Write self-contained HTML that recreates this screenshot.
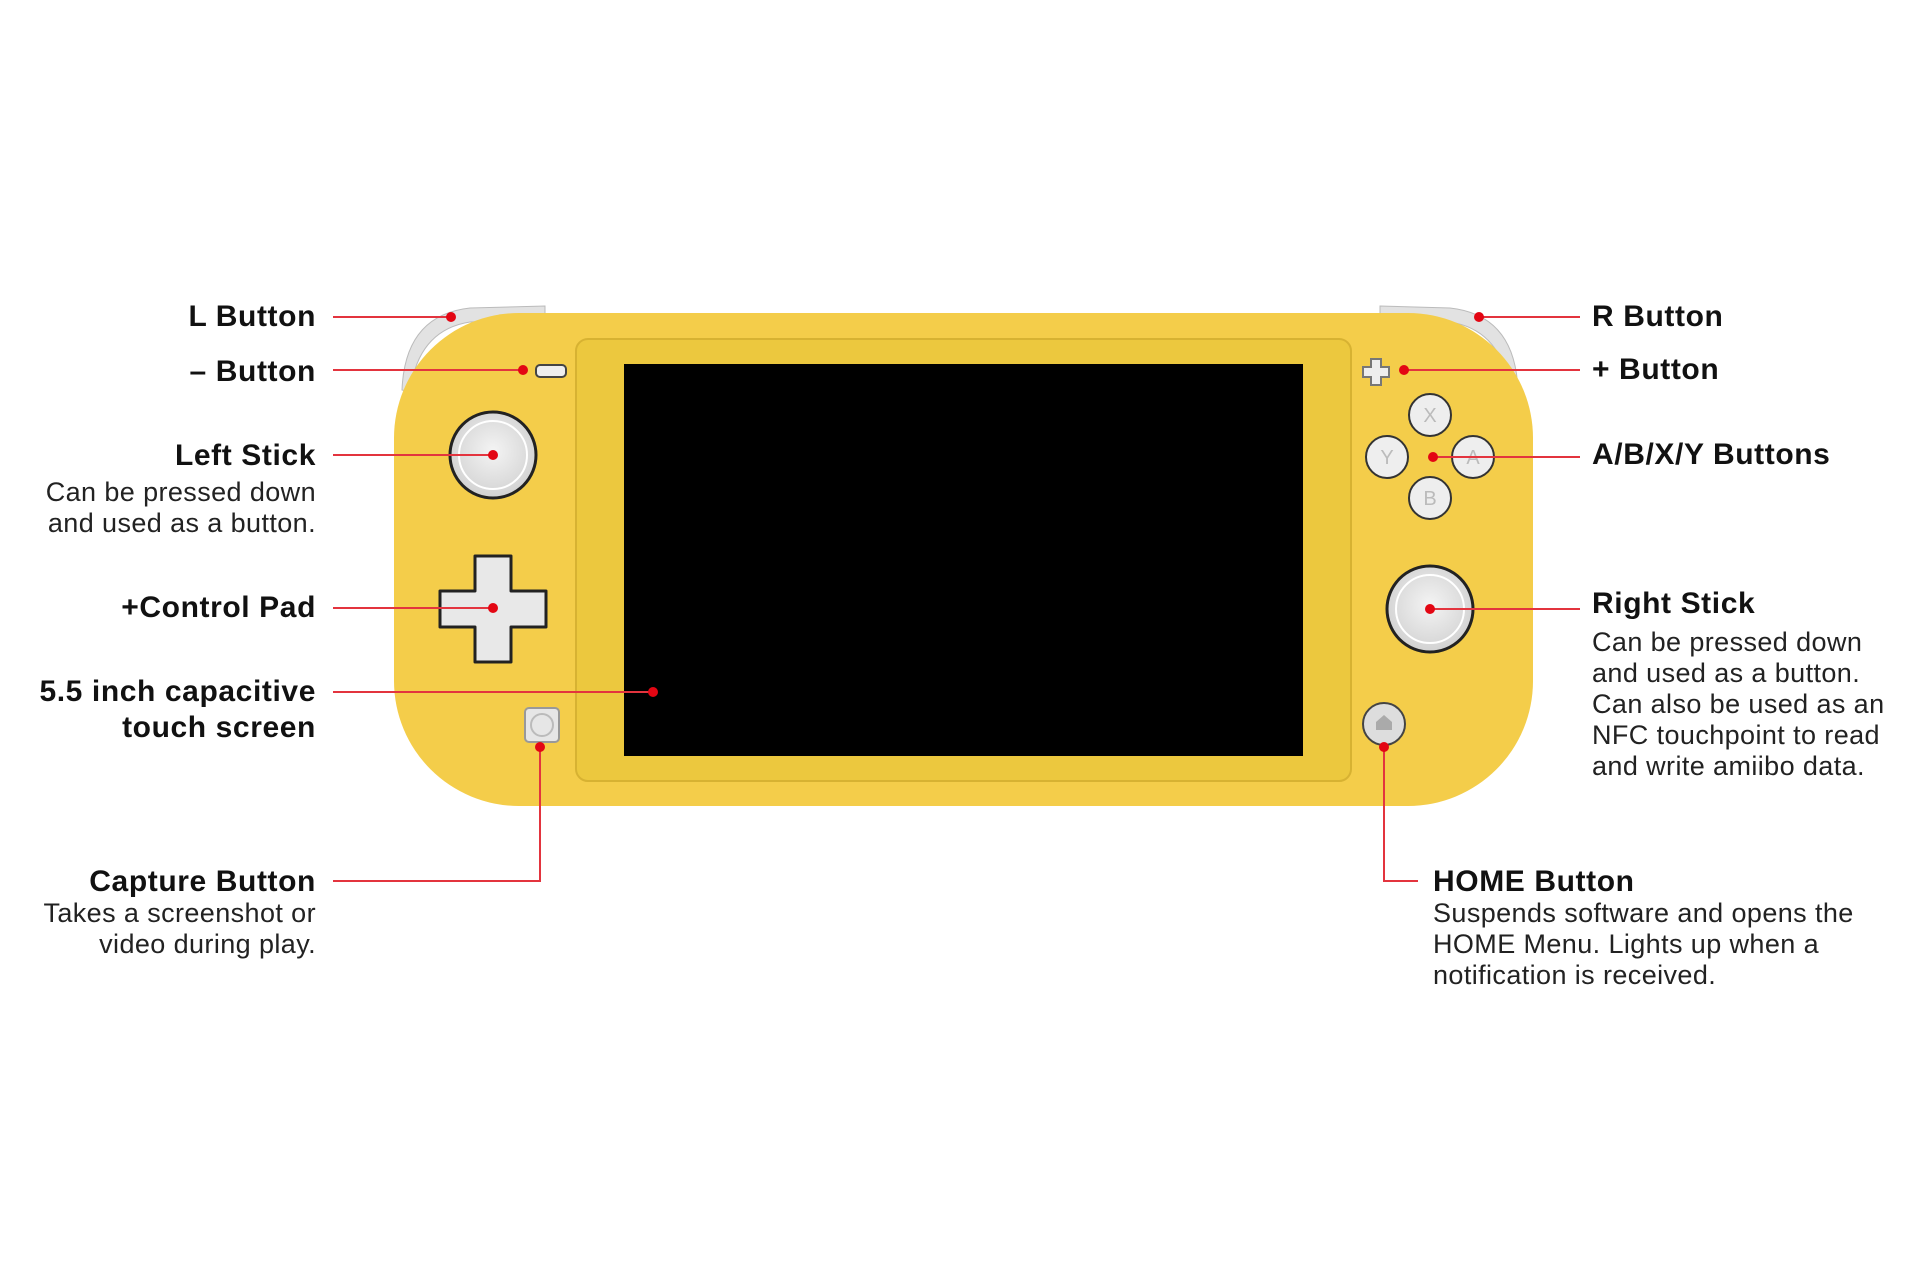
<!DOCTYPE html>
<html><head><meta charset="utf-8"><style>
html,body{margin:0;padding:0;background:#fff;width:1920px;height:1280px;overflow:hidden}
svg{display:block}
.b{font-family:"Liberation Sans",sans-serif;font-weight:bold;font-size:30px;letter-spacing:0.6px;fill:#111}
.d{font-family:"Liberation Sans",sans-serif;font-size:27px;letter-spacing:0.4px;fill:#222}
.l{stroke:#e3343e;stroke-width:2;fill:none}
.dot{fill:#e30613}
</style></head><body>
<svg width="1920" height="1280" viewBox="0 0 1920 1280" xmlns="http://www.w3.org/2000/svg">
<defs>
<radialGradient id="st" cx="50%" cy="45%" r="55%"><stop offset="0" stop-color="#f4f4f4"/><stop offset="1" stop-color="#d2d2d2"/></radialGradient>
</defs>
<path d="M402,390 Q405,315 470,308 L545,306 L545,318 L470,322 Q418,330 410,392 Z" fill="#e2e2e2" stroke="#bbb" stroke-width="1"/>
<path d="M1518,390 Q1515,315 1450,308 L1380,306 L1380,318 L1450,322 Q1502,330 1510,392 Z" fill="#e2e2e2" stroke="#bbb" stroke-width="1"/>
<rect x="394" y="313" width="1139" height="493" rx="125" fill="#f4cd4a"/>
<rect x="576" y="339" width="775" height="442" rx="12" fill="#ecc83e" stroke="#d7b232" stroke-width="2"/>
<rect x="624" y="364" width="679" height="392" fill="#000"/>
<rect x="536" y="365" width="30" height="12" rx="4" fill="#eee" stroke="#444" stroke-width="2"/>
<circle cx="493" cy="455" r="43" fill="url(#st)" stroke="#222" stroke-width="3"/>
<circle cx="493" cy="455" r="34" fill="none" stroke="#fff" stroke-width="2"/>
<path d="M475,556 h36 v35 h35 v36 h-35 v35 h-36 v-35 h-35 v-36 h35 Z" fill="#e8e8e8" stroke="#222" stroke-width="3" stroke-linejoin="round"/>
<rect x="525" y="708" width="34" height="34" rx="4" fill="#e6e6e6" stroke="#999" stroke-width="2"/>
<circle cx="542" cy="725" r="11" fill="none" stroke="#bbb" stroke-width="2"/>
<path d="M1371,359 h10 v8 h8 v10 h-8 v8 h-10 v-8 h-8 v-10 h8 Z" fill="#eee" stroke="#777" stroke-width="2"/>
<g fill="#eee" stroke="#333" stroke-width="2">
<circle cx="1430" cy="415" r="21"/><circle cx="1387" cy="457" r="21"/><circle cx="1473" cy="457" r="21"/><circle cx="1430" cy="498" r="21"/>
</g>
<g font-family="Liberation Sans,sans-serif" font-size="20" fill="#bbb" text-anchor="middle">
<text x="1430" y="422">X</text><text x="1387" y="464">Y</text><text x="1473" y="464">A</text><text x="1430" y="505">B</text>
</g>
<circle cx="1430" cy="609" r="43" fill="url(#st)" stroke="#222" stroke-width="3"/>
<circle cx="1430" cy="609" r="34" fill="none" stroke="#fff" stroke-width="2"/>
<circle cx="1384" cy="724" r="21" fill="#ddd" stroke="#444" stroke-width="2"/>
<path d="M1376,730 v-8 l8,-7 l8,7 v8 z" fill="#aaa"/>
<g class="l">
<path d="M333,317 H451"/><path d="M333,370 H523"/><path d="M333,455 H493"/><path d="M333,608 H493"/><path d="M333,692 H653"/>
<path d="M333,881 H540 V747"/>
<path d="M1479,317 H1580"/><path d="M1404,370 H1580"/><path d="M1433,457 H1580"/><path d="M1430,609 H1580"/>
<path d="M1384,747 V881 H1418"/>
</g>
<g class="dot">
<circle cx="451" cy="317" r="5"/><circle cx="523" cy="370" r="5"/><circle cx="493" cy="455" r="5"/><circle cx="493" cy="608" r="5"/><circle cx="653" cy="692" r="5"/><circle cx="540" cy="747" r="5"/>
<circle cx="1479" cy="317" r="5"/><circle cx="1404" cy="370" r="5"/><circle cx="1433" cy="457" r="5"/><circle cx="1430" cy="609" r="5"/><circle cx="1384" cy="747" r="5"/>
</g>
<g text-anchor="end">
<text class="b" x="316" y="326">L Button</text>
<text class="b" x="316" y="381">– Button</text>
<text class="b" x="316" y="465">Left Stick</text>
<text class="d" x="316" y="501">Can be pressed down</text>
<text class="d" x="316" y="532">and used as a button.</text>
<text class="b" x="316" y="617">+Control Pad</text>
<text class="b" x="316" y="701">5.5 inch capacitive</text>
<text class="b" x="316" y="737">touch screen</text>
<text class="b" x="316" y="891">Capture Button</text>
<text class="d" x="316" y="922">Takes a screenshot or</text>
<text class="d" x="316" y="953">video during play.</text>
</g>
<text class="b" x="1592" y="326">R Button</text>
<text class="b" x="1592" y="379">+ Button</text>
<text class="b" x="1592" y="464">A/B/X/Y Buttons</text>
<text class="b" x="1592" y="613">Right Stick</text>
<text class="d" x="1592" y="651">Can be pressed down</text>
<text class="d" x="1592" y="682">and used as a button.</text>
<text class="d" x="1592" y="713">Can also be used as an</text>
<text class="d" x="1592" y="744">NFC touchpoint to read</text>
<text class="d" x="1592" y="775">and write amiibo data.</text>
<text class="b" x="1433" y="891">HOME Button</text>
<text class="d" x="1433" y="922">Suspends software and opens the</text>
<text class="d" x="1433" y="953">HOME Menu. Lights up when a</text>
<text class="d" x="1433" y="984">notification is received.</text>
</svg>
</body></html>
